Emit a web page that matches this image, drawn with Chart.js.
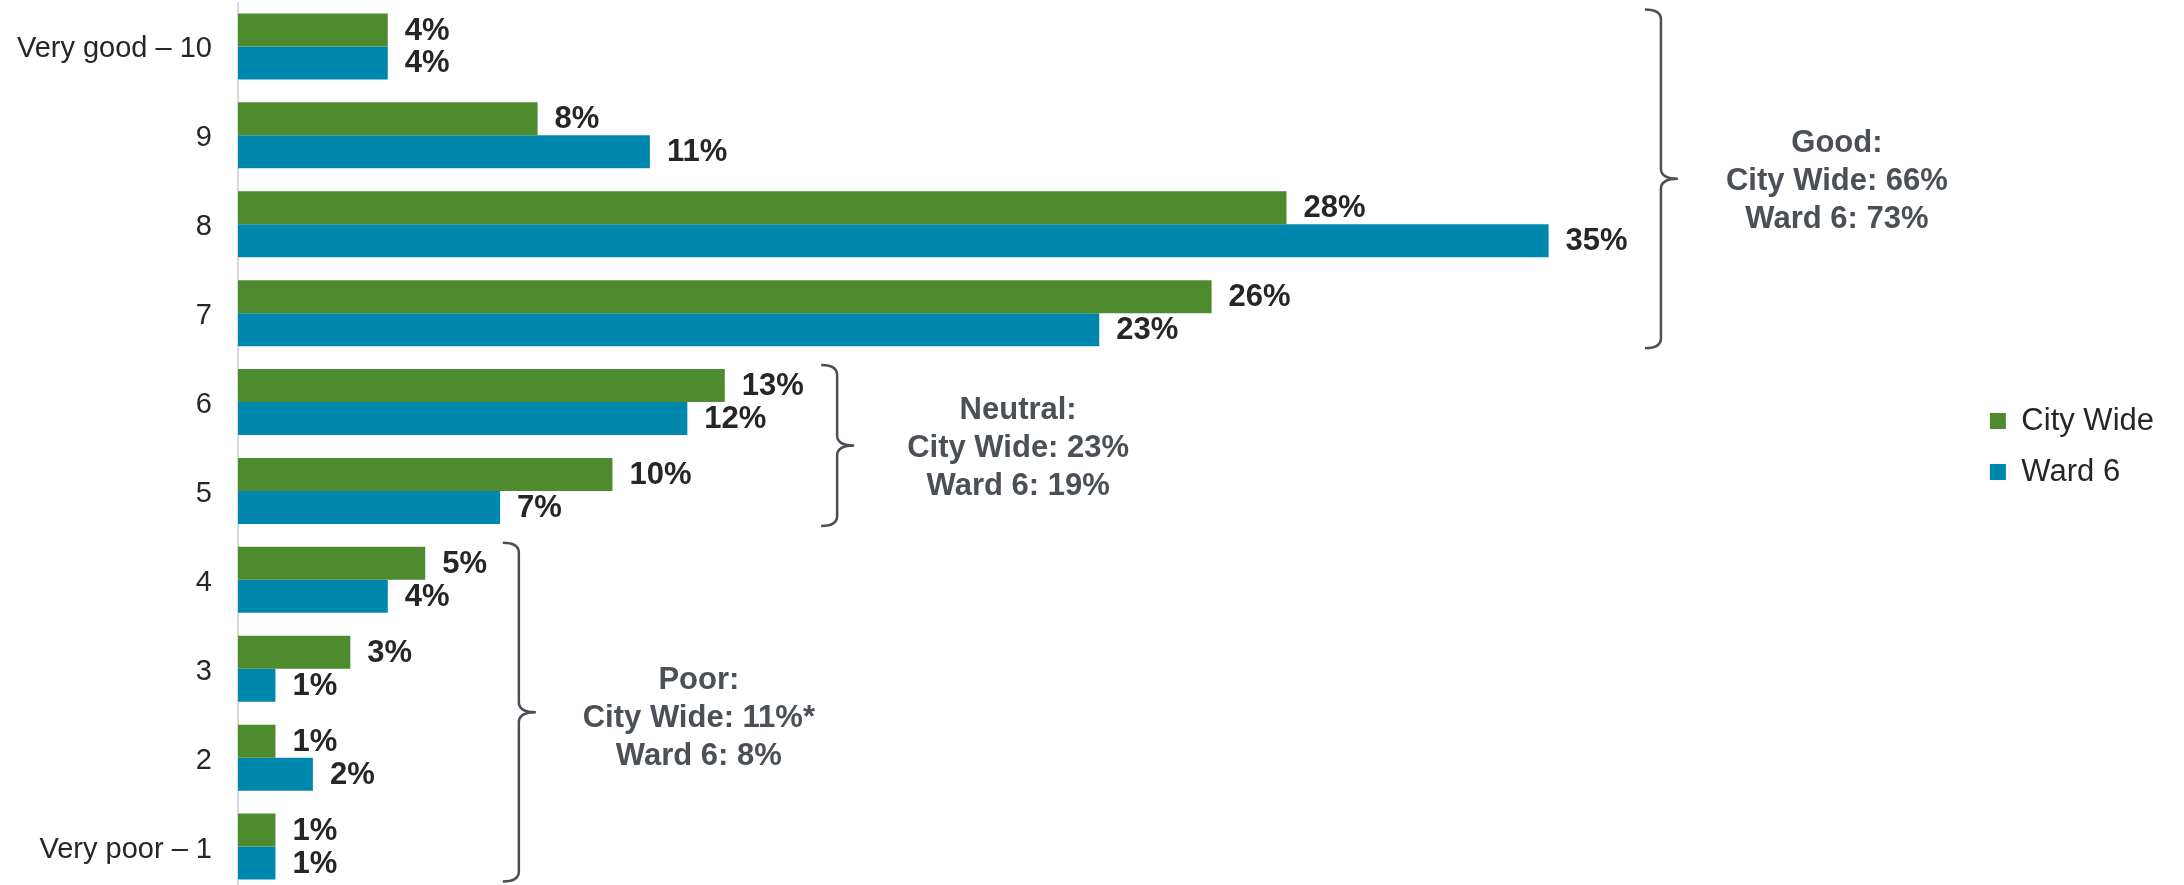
<!DOCTYPE html>
<html>
<head>
<meta charset="utf-8">
<script src="https://cdn.jsdelivr.net/npm/chart.js@4"></script>
<style>
  html, body { margin: 0; padding: 0; background: #fff; overflow: hidden; }
  #wrap { position: absolute; left: 0; top: 2px; width: 2184px; height: 889px; }
</style>
</head>
<body>
<div id="wrap"><canvas id="chart"></canvas></div>
<script>
const categories = ['Very good – 10', '9', '8', '7', '6', '5', '4', '3', '2', 'Very poor – 1'];
const cityWide = [4, 8, 28, 26, 13, 10, 5, 3, 1, 1];
const ward6 = [4, 11, 35, 23, 12, 7, 4, 1, 2, 1];
const seriesNames = ['City Wide', 'Ward 6'];

const groupTitles = ['Good:', 'Neutral:', 'Poor:'];
const groupCityWide = ['City Wide: 66%', 'City Wide: 23%', 'City Wide: 11%*'];
const groupWard6 = ['Ward 6: 73%', 'Ward 6: 19%', 'Ward 6: 8%'];
const groupFirst = [0, 4, 6];
const groupLast = [3, 5, 9];

const FONT = '"Liberation Sans", Arial, sans-serif';

// value labels to the right of each bar
const barLabels = {
  id: 'barLabels',
  afterDatasetsDraw(chart) {
    const ctx = chart.ctx;
    ctx.save();
    ctx.font = 'bold 31px ' + FONT;
    ctx.fillStyle = '#262626';
    ctx.textAlign = 'left';
    ctx.textBaseline = 'middle';
    chart.data.datasets.forEach((ds, i) => {
      chart.getDatasetMeta(i).data.forEach((bar, j) => {
        ctx.fillText(ds.data[j] + '%', bar.x + 17, bar.y + 1);
      });
    });
    ctx.restore();
  }
};

const drawBrace = (ctx, x, top, bottom) => {
  const mid = (top + bottom) / 2;
  const hook = 16, tip = 17, r = 10;
  ctx.beginPath();
  ctx.moveTo(x - hook, top);
  ctx.quadraticCurveTo(x, top, x, top + r);
  ctx.lineTo(x, mid - r);
  ctx.quadraticCurveTo(x, mid, x + tip, mid);
  ctx.quadraticCurveTo(x, mid, x, mid + r);
  ctx.lineTo(x, bottom - r);
  ctx.quadraticCurveTo(x, bottom, x - hook, bottom);
  ctx.stroke();
  return mid;
};

// curly braces with group totals
const groupBraces = {
  id: 'groupBraces',
  afterDraw(chart, args, opts) {
    const ctx = chart.ctx;
    const xs = chart.scales.x;
    const ys = chart.scales.y;
    ctx.save();
    ctx.strokeStyle = '#4b4f56';
    ctx.lineWidth = 2.5;
    ctx.fillStyle = '#4b4f56';
    ctx.font = 'bold 31px ' + FONT;
    ctx.textAlign = 'center';
    ctx.textBaseline = 'middle';
    groupTitles.forEach((title, g) => {
      const x = xs.getPixelForValue(opts.braceAt[g]);
      const top = ys.getPixelForValue(groupFirst[g]) - 37;
      const bottom = ys.getPixelForValue(groupLast[g]) + 35;
      const mid = drawBrace(ctx, x, top, bottom);
      const tx = x + opts.textDx[g];
      const ty = mid + opts.textDy[g];
      ctx.fillText(title, tx, ty - 38);
      ctx.fillText(groupCityWide[g], tx, ty);
      ctx.fillText(groupWard6[g], tx, ty + 38);
    });
    ctx.restore();
  }
};

new Chart(document.getElementById('chart'), {
  type: 'bar',
  data: {
    labels: categories,
    datasets: [
      { label: seriesNames[0], data: cityWide, backgroundColor: '#4e8b2e', borderWidth: 0 },
      { label: seriesNames[1], data: ward6, backgroundColor: '#0087ad', borderWidth: 0 }
    ]
  },
  options: {
    indexAxis: 'y',
    responsive: true,
    maintainAspectRatio: false,
    animation: false,
    events: [],
    categoryPercentage: 0.742,
    barPercentage: 1,
    layout: { padding: { right: 20 } },
    plugins: {
      legend: {
        position: 'right',
        labels: {
          boxWidth: 16,
          boxHeight: 16,
          padding: 20,
          color: '#262626',
          font: { size: 31, family: FONT }
        }
      },
      tooltip: { enabled: false },
      groupBraces: { braceAt: [38, 16, 7.5], textDx: [176, 181, 180], textDy: [3, 3, 6] }
    },
    scales: {
      x: { display: false, min: 0, max: 46.25 },
      y: {
        grid: { display: false, drawTicks: false },
        border: { display: true, color: '#d9d9d9', width: 2 },
        ticks: { color: '#262626', padding: 26, labelOffset: 3, font: { size: 29, family: FONT } },
        afterFit(scale) {
          scale.width = 238;
          scale.paddingTop = 0;
          scale.paddingBottom = 0;
        }
      }
    }
  },
  plugins: [barLabels, groupBraces]
});
</script>
</body>
</html>
